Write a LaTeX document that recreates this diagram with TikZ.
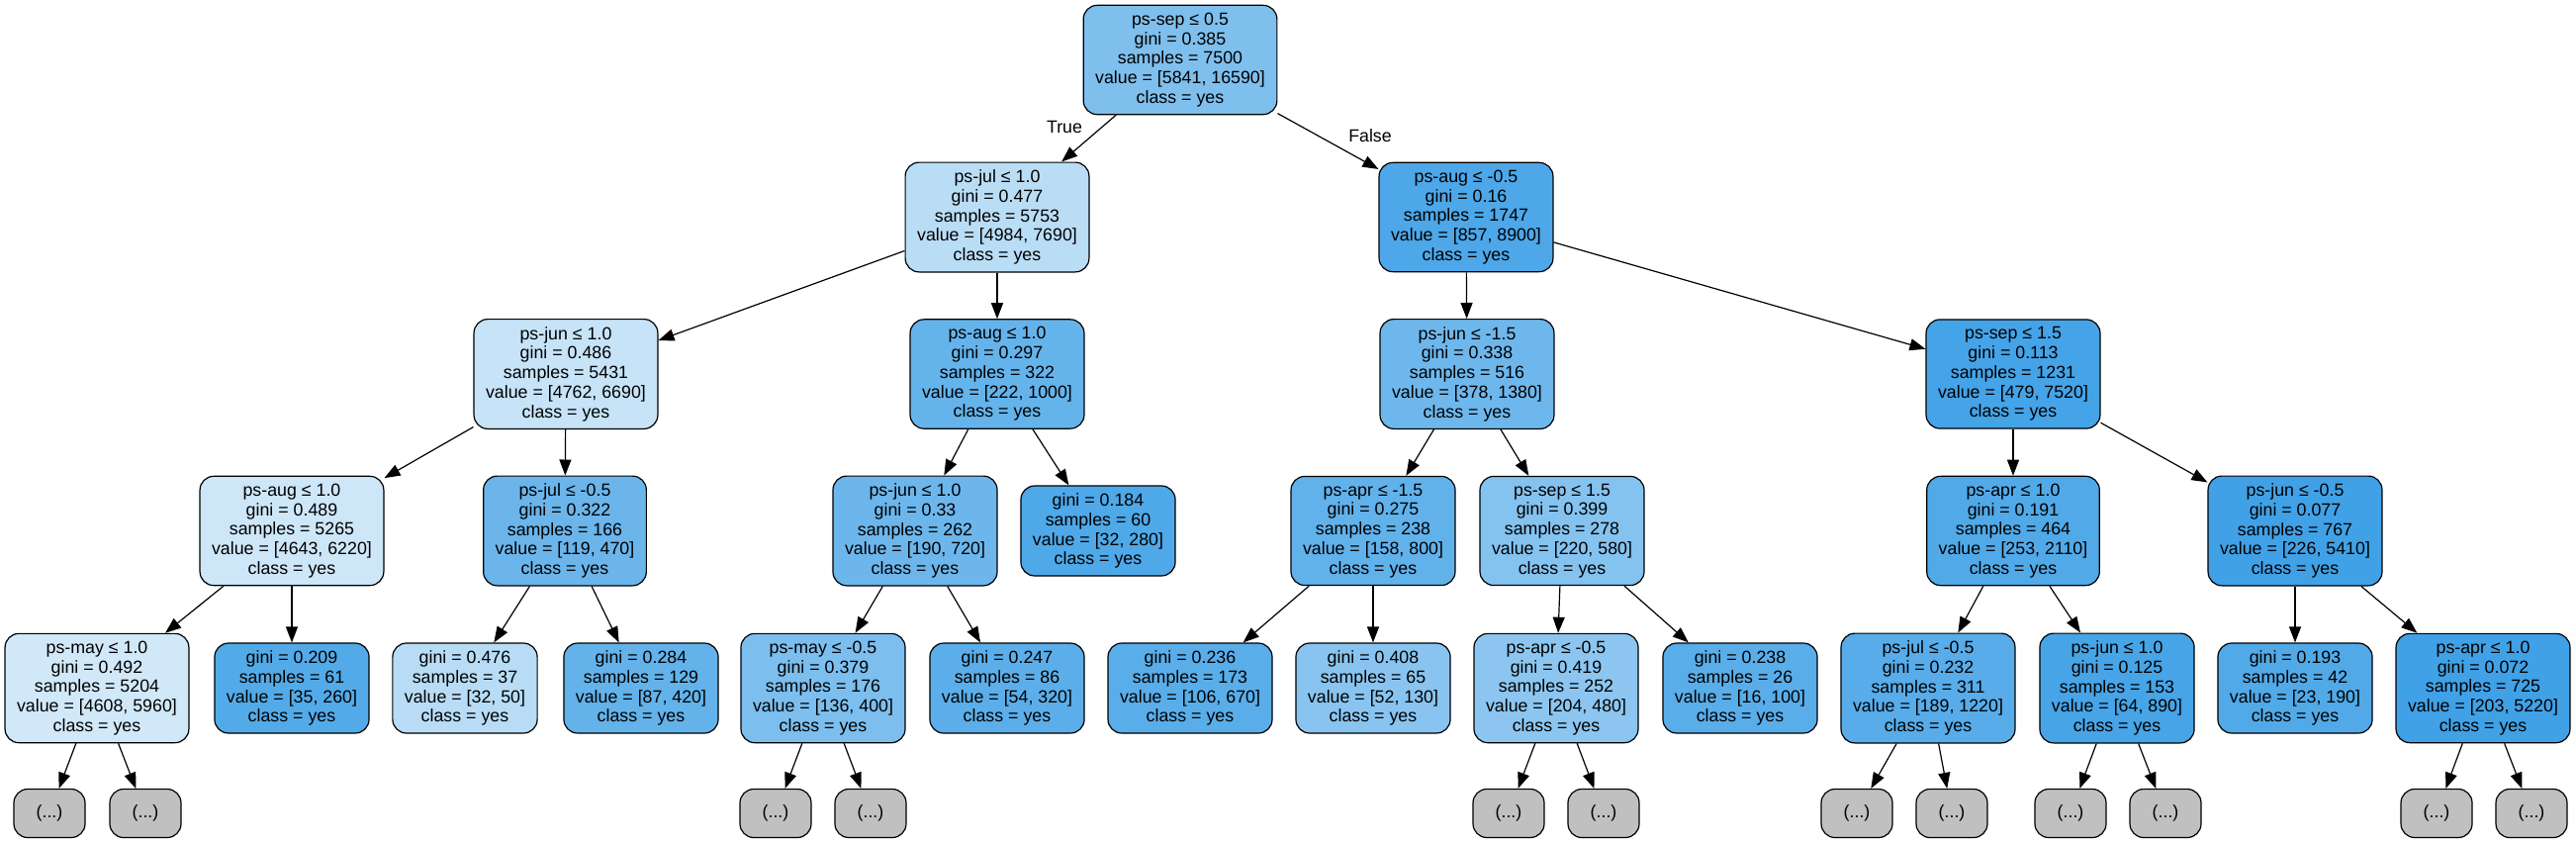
\documentclass[tikz,border=0pt]{standalone}
\usepackage{fontspec}
\setmainfont{Liberation Sans}
\usetikzlibrary{arrows.meta}
\definecolor{yesblue}{RGB}{57,157,229}
\definecolor{foldgray}{RGB}{192,192,192}
\tikzset{
  tnode/.style={draw=black,line width=1.2pt,rounded corners=14pt,align=center,
    inner xsep=12pt,inner ysep=7.5pt,minimum width=72pt,minimum height=49pt,
    font=\fontsize{17.8}{19.8}\selectfont,fill=yesblue!#1!white},
  more/.style={tnode=0,fill=foldgray},
  link/.style={-{Triangle[length=16pt,width=12pt]},line width=1.2pt},
  lbl/.style={font=\fontsize{17.8}{19.8}\selectfont,inner sep=0pt}
}
\begin{document}
\begin{tikzpicture}[x=1pt,y=-1pt]
\useasboundingbox (0,0) rectangle (2604,852);
% level 0
\node[tnode=65] (root) at (1193,60.5) {ps-sep ≤ 0.5\\gini = 0.385\\samples = 7500\\value = [5841, 16590]\\class = yes};
% level 1
\node[tnode=35] (jul) at (1008,219.5) {ps-jul ≤ 1.0\\gini = 0.477\\samples = 5753\\value = [4984, 7690]\\class = yes};
\node[tnode=90] (aug) at (1482,219.5) {ps-aug ≤ -0.5\\gini = 0.16\\samples = 1747\\value = [857, 8900]\\class = yes};
% level 2
\node[tnode=29] (jul-jun) at (572,378) {ps-jun ≤ 1.0\\gini = 0.486\\samples = 5431\\value = [4762, 6690]\\class = yes};
\node[tnode=78] (jul-aug) at (1008,378) {ps-aug ≤ 1.0\\gini = 0.297\\samples = 322\\value = [222, 1000]\\class = yes};
\node[tnode=73] (aug-jun) at (1483,378) {ps-jun ≤ -1.5\\gini = 0.338\\samples = 516\\value = [378, 1380]\\class = yes};
\node[tnode=94] (aug-sep) at (2035,378) {ps-sep ≤ 1.5\\gini = 0.113\\samples = 1231\\value = [479, 7520]\\class = yes};
% level 3
\node[tnode=25] (n1) at (295,536.5) {ps-aug ≤ 1.0\\gini = 0.489\\samples = 5265\\value = [4643, 6220]\\class = yes};
\node[tnode=75] (n2) at (571,536.5) {ps-jul ≤ -0.5\\gini = 0.322\\samples = 166\\value = [119, 470]\\class = yes};
\node[tnode=74] (n3) at (925,536.5) {ps-jun ≤ 1.0\\gini = 0.33\\samples = 262\\value = [190, 720]\\class = yes};
\node[tnode=89] (n4) at (1110,536.5) {gini = 0.184\\samples = 60\\value = [32, 280]\\class = yes};
\node[tnode=80] (n5) at (1388,536.5) {ps-apr ≤ -1.5\\gini = 0.275\\samples = 238\\value = [158, 800]\\class = yes};
\node[tnode=62] (n6) at (1579,536.5) {ps-sep ≤ 1.5\\gini = 0.399\\samples = 278\\value = [220, 580]\\class = yes};
\node[tnode=88] (n7) at (2035,536.5) {ps-apr ≤ 1.0\\gini = 0.191\\samples = 464\\value = [253, 2110]\\class = yes};
\node[tnode=96] (n8) at (2320,536.5) {ps-jun ≤ -0.5\\gini = 0.077\\samples = 767\\value = [226, 5410]\\class = yes};
% level 4
\node[tnode=23] (m1) at (98,695.5) {ps-may ≤ 1.0\\gini = 0.492\\samples = 5204\\value = [4608, 5960]\\class = yes};
\node[tnode=87] (m2) at (295,695.5) {gini = 0.209\\samples = 61\\value = [35, 260]\\class = yes};
\node[tnode=36] (m3) at (470,695.5) {gini = 0.476\\samples = 37\\value = [32, 50]\\class = yes};
\node[tnode=79] (m4) at (648,695.5) {gini = 0.284\\samples = 129\\value = [87, 420]\\class = yes};
\node[tnode=66] (m5) at (832,695.5) {ps-may ≤ -0.5\\gini = 0.379\\samples = 176\\value = [136, 400]\\class = yes};
\node[tnode=83] (m6) at (1018,695.5) {gini = 0.247\\samples = 86\\value = [54, 320]\\class = yes};
\node[tnode=84] (m7) at (1203,695.5) {gini = 0.236\\samples = 173\\value = [106, 670]\\class = yes};
\node[tnode=60] (m8) at (1388,695.5) {gini = 0.408\\samples = 65\\value = [52, 130]\\class = yes};
\node[tnode=58] (m9) at (1573,695.5) {ps-apr ≤ -0.5\\gini = 0.419\\samples = 252\\value = [204, 480]\\class = yes};
\node[tnode=84] (m10) at (1759,695.5) {gini = 0.238\\samples = 26\\value = [16, 100]\\class = yes};
\node[tnode=85] (m11) at (1949,695.5) {ps-jul ≤ -0.5\\gini = 0.232\\samples = 311\\value = [189, 1220]\\class = yes};
\node[tnode=93] (m12) at (2140,695.5) {ps-jun ≤ 1.0\\gini = 0.125\\samples = 153\\value = [64, 890]\\class = yes};
\node[tnode=88] (m13) at (2320,695.5) {gini = 0.193\\samples = 42\\value = [23, 190]\\class = yes};
\node[tnode=96] (m14) at (2510,695.5) {ps-apr ≤ 1.0\\gini = 0.072\\samples = 725\\value = [203, 5220]\\class = yes};
% level 5, cut off
\node[more] (f1) at (50,822) {(...)};
\node[more] (f2) at (147,822) {(...)};
\node[more] (f3) at (784,822) {(...)};
\node[more] (f4) at (880,822) {(...)};
\node[more] (f5) at (1525,822) {(...)};
\node[more] (f6) at (1621,822) {(...)};
\node[more] (f7) at (1877,822) {(...)};
\node[more] (f8) at (1973,822) {(...)};
\node[more] (f9) at (2093,822) {(...)};
\node[more] (f10) at (2189,822) {(...)};
\node[more] (f11) at (2463,822) {(...)};
\node[more] (f12) at (2559,822) {(...)};
% edges
\draw[link] (root) -- (jul);
\draw[link] (root) -- (aug);
\node[lbl] (true) at (1076,128) {True};
\node[lbl] (false) at (1385,137) {False};
\draw[link] (jul) -- (jul-jun);
\draw[link] (jul) -- (jul-aug);
\draw[link] (aug) -- (aug-jun);
\draw[link] (aug) -- (aug-sep);
\draw[link] (jul-jun) -- (n1);
\draw[link] (jul-jun) -- (n2);
\draw[link] (jul-aug) -- (n3);
\draw[link] (jul-aug) -- (n4);
\draw[link] (aug-jun) -- (n5);
\draw[link] (aug-jun) -- (n6);
\draw[link] (aug-sep) -- (n7);
\draw[link] (aug-sep) -- (n8);
\draw[link] (n1) -- (m1);
\draw[link] (n1) -- (m2);
\draw[link] (n2) -- (m3);
\draw[link] (n2) -- (m4);
\draw[link] (n3) -- (m5);
\draw[link] (n3) -- (m6);
\draw[link] (n5) -- (m7);
\draw[link] (n5) -- (m8);
\draw[link] (n6) -- (m9);
\draw[link] (n6) -- (m10);
\draw[link] (n7) -- (m11);
\draw[link] (n7) -- (m12);
\draw[link] (n8) -- (m13);
\draw[link] (n8) -- (m14);
\draw[link] (m1) -- (f1);
\draw[link] (m1) -- (f2);
\draw[link] (m5) -- (f3);
\draw[link] (m5) -- (f4);
\draw[link] (m9) -- (f5);
\draw[link] (m9) -- (f6);
\draw[link] (m11) -- (f7);
\draw[link] (m11) -- (f8);
\draw[link] (m12) -- (f9);
\draw[link] (m12) -- (f10);
\draw[link] (m14) -- (f11);
\draw[link] (m14) -- (f12);
\end{tikzpicture}
\end{document}
